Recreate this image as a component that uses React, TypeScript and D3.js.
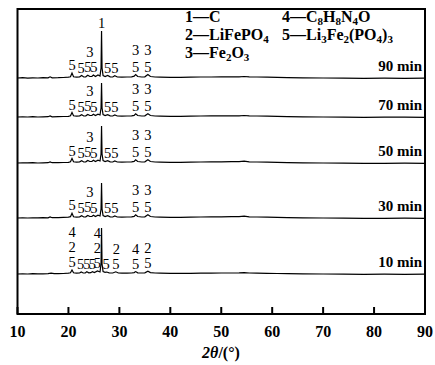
import React from 'react';
import * as d3 from 'd3';

const W = 435;
const H = 365;

const xTicks = [10, 20, 30, 40, 50, 60, 70, 80, 90];
const timeLabels = ['90 min', '70 min', '50 min', '30 min', '10 min'];
// vertical stacking of each pattern (a.u. above the x axis)
const stackOffsets = [236, 197, 151, 96, 40];

// [2θ, intensity]
const pattern90: [number, number][] = [
  [10, 0], [11, 0.3], [12, -0.2], [13, 0.2], [14, 0], [15, 0.3], [16, 0.2], [16.4, 1.2], [16.8, 0.2],
  [18, 0.3], [19, 0.5], [20, 0.8], [20.4, 1.2], [20.7, 5], [21, 1.2], [21.6, 0.8], [22.2, 1.2], [22.6, 2.5],
  [23, 1], [23.4, 1.2], [23.8, 2.8], [24.2, 1.5], [24.6, 1.5], [24.9, 3], [25.3, 1.5], [25.8, 3], [26.2, 2],
  [26.4, 10], [26.5, 47], [26.6, 10], [26.8, 2.5], [27.2, 1.5], [27.7, 2.5], [28.2, 1.2], [28.7, 1], [29.1, 2.2],
  [29.6, 1], [30.5, 0.8], [31.5, 1], [32.4, 1.2], [32.9, 1.8], [33.2, 3.5], [33.6, 1.5], [34.4, 1], [35, 1.2],
  [35.6, 3.5], [36.1, 1.5], [37, 1], [38, 0.8], [40, 0.6], [42, 0.6], [44, 0.8], [46, 1], [48, 1], [50, 1.1],
  [52, 1.1], [53.5, 1.2], [54.5, 1.5], [55.5, 1.1], [57, 1], [59, 0.9], [61, 0.6], [63, 0.4], [66, 0.2], [70, 0],
  [74, -0.2], [78, -0.3], [82, -0.2], [86, -0.3], [90, -0.2],
];
const pattern70: [number, number][] = [
  [10, 0], [11, 0.2], [12, 0], [13, 0.3], [14, 0], [15, 0.2], [16, 0.3], [16.4, 1], [16.8, 0.2],
  [18, 0.4], [19, 0.5], [20, 0.7], [20.4, 1.2], [20.7, 4.5], [21, 1.2], [21.6, 0.8], [22.2, 1.2], [22.6, 2.3],
  [23, 1], [23.4, 1.2], [23.8, 2.6], [24.2, 1.5], [24.6, 1.5], [24.9, 2.8], [25.3, 1.5], [25.8, 2.8], [26.2, 2],
  [26.4, 9], [26.5, 34], [26.6, 9], [26.8, 2.5], [27.2, 1.5], [27.7, 2.3], [28.2, 1.2], [28.7, 1], [29.1, 2],
  [29.6, 1], [30.5, 0.8], [31.5, 1], [32.4, 1.2], [32.9, 1.6], [33.2, 3.2], [33.6, 1.5], [34.4, 1], [35, 1.2],
  [35.6, 3.2], [36.1, 1.5], [37, 1], [38, 0.8], [40, 0.6], [42, 0.7], [44, 0.8], [46, 1], [48, 1.1], [50, 1.2],
  [52, 1.2], [53.5, 1.2], [54.5, 1.5], [55.5, 1.1], [57, 1], [59, 0.9], [61, 0.6], [63, 0.4], [66, 0.2], [70, 0],
  [74, -0.1], [78, -0.3], [82, -0.2], [86, -0.2], [90, -0.3],
];
const pattern50: [number, number][] = [
  [10, 0], [11, 0.2], [12, 0.1], [13, 0.3], [14, 0], [15, 0.2], [16, 0.3], [16.4, 1], [16.8, 0.3],
  [18, 0.4], [19, 0.5], [20, 0.7], [20.4, 1.2], [20.7, 4.5], [21, 1.2], [21.6, 0.8], [22.2, 1.2], [22.6, 2.3],
  [23, 1], [23.4, 1.2], [23.8, 2.6], [24.2, 1.5], [24.6, 1.5], [24.9, 2.8], [25.3, 1.5], [25.8, 2.8], [26.2, 2],
  [26.4, 9], [26.5, 37], [26.6, 9], [26.8, 2.5], [27.2, 1.5], [27.7, 2.3], [28.2, 1.2], [28.7, 1], [29.1, 2],
  [29.6, 1], [30.5, 0.8], [31.5, 1], [32.4, 1.2], [32.9, 1.6], [33.2, 3.2], [33.6, 1.5], [34.4, 1], [35, 1.2],
  [35.6, 3.2], [36.1, 1.5], [37, 1], [38, 0.8], [40, 0.6], [42, 0.7], [44, 0.8], [46, 1], [48, 1.1], [50, 1.2],
  [52, 1.3], [53.5, 1.4], [54.5, 1.8], [55.5, 1.2], [57, 1], [59, 0.9], [61, 0.6], [63, 0.4], [66, 0.2], [70, 0],
  [74, -0.2], [78, -0.3], [82, -0.3], [86, -0.2], [90, -0.3],
];
const pattern30: [number, number][] = [
  [10, 0], [11, 0.2], [12, 0], [13, 0.2], [14, 0.1], [15, 0.3], [16, 0.2], [16.4, 1], [16.8, 0.3],
  [18, 0.4], [19, 0.6], [20, 0.8], [20.4, 1.3], [20.7, 4.8], [21, 1.2], [21.6, 0.8], [22.2, 1.2], [22.6, 2.3],
  [23, 1], [23.4, 1.2], [23.8, 2.6], [24.2, 1.5], [24.6, 1.5], [24.9, 2.8], [25.3, 1.5], [25.8, 2.8], [26.2, 2],
  [26.4, 9], [26.5, 35], [26.6, 9], [26.8, 2.5], [27.2, 1.5], [27.7, 2.3], [28.2, 1.2], [28.7, 1], [29.1, 2],
  [29.6, 1], [30.5, 0.8], [31.5, 1], [32.4, 1.2], [32.9, 1.6], [33.2, 3.2], [33.6, 1.5], [34.4, 1], [35, 1.2],
  [35.6, 3.2], [36.1, 1.5], [37, 1], [38, 0.8], [40, 0.6], [42, 0.7], [44, 0.8], [46, 1], [48, 1.1], [50, 1.2],
  [52, 1.3], [53.5, 1.4], [54.5, 1.8], [55.5, 1.2], [57, 1], [59, 0.9], [61, 0.6], [63, 0.4], [66, 0.2], [70, 0],
  [74, -0.2], [78, -0.3], [82, -0.3], [86, -0.2], [90, -0.3],
];
const pattern10: [number, number][] = [
  [10, 0], [11, 0.2], [12, 0], [13, 0.3], [14, 0.1], [15, 0.2], [16, 0.4], [16.6, 0.8], [17.2, 0.3],
  [18, 0.4], [19, 0.5], [20, 0.8], [20.4, 1.2], [20.7, 4], [21, 1.2], [21.6, 0.8], [22.2, 1], [22.5, 2],
  [22.9, 1], [23.3, 1.1], [23.6, 2.2], [24, 1.2], [24.4, 1.3], [24.7, 2.4], [25.1, 1.4], [25.7, 3], [26.2, 2],
  [26.4, 10], [26.5, 46], [26.6, 10], [26.8, 2.4], [27.2, 1.6], [27.5, 2], [28, 1.2], [28.7, 1], [29.3, 2.2],
  [29.8, 1], [30.5, 0.8], [31.5, 0.9], [32.4, 1], [32.9, 1.4], [33.2, 2.4], [33.6, 1.2], [34.4, 1], [35, 1.2],
  [35.6, 2.8], [36.1, 1.4], [37, 1], [38, 0.8], [40, 0.6], [42, 0.6], [44, 0.7], [46, 0.8], [48, 0.9], [50, 1],
  [52, 1], [53.5, 1.1], [54.5, 1.3], [55.5, 1], [57, 0.8], [59, 0.7], [61, 0.5], [63, 0.3], [66, 0.1], [70, 0],
  [74, -0.2], [78, -0.3], [82, -0.2], [86, -0.3], [90, -0.2],
];
const patterns = [pattern90, pattern70, pattern50, pattern30, pattern10];

// [label, 2θ, level]
const commonLabels: [string, number, number][] = [
  ['5', 20.7, 0], ['5', 22.5, 0], ['5', 23.8, 0], ['5', 25.0, 0], ['3', 24.2, 1],
  ['5', 27.7, 0], ['5', 29.1, 0], ['5', 33.2, 0], ['5', 35.6, 0], ['3', 33.2, 1], ['3', 35.6, 1],
];
const labels90: [string, number, number][] = [...commonLabels, ['1', 26.5, 0]];
const labels10: [string, number, number][] = [
  ['5', 20.7, 0], ['2', 20.7, 1], ['4', 20.7, 2], ['5', 22.4, 0], ['5', 23.6, 0], ['5', 24.7, 0], ['5', 25.7, 0],
  ['2', 25.7, 1], ['4', 25.7, 2], ['5', 27.4, 0], ['5', 29.3, 0], ['2', 29.4, 1],
  ['5', 33.2, 0], ['4', 33.2, 1], ['5', 35.6, 0], ['2', 35.6, 1],
];
const peakLabels = [labels90, commonLabels, commonLabels, commonLabels, labels10];

const legendCol1 = ['1—C', '2—LiFePO_4', '3—Fe_2O_3'];
const legendCol2 = ['4—C_8H_8N_4O', '5—Li_3Fe_2(PO_4)_3'];

const serif = '"Liberation Serif", "Times New Roman", serif';

const x = d3.scaleLinear().domain([10, 90]).range([17.5, 425]);
const y = d3.scaleLinear().domain([0, 305]).range([314, 9]);

const heightAt = (p: [number, number][], t: number) => {
  const i = d3.bisector((d: [number, number]) => d[0]).left(p, t);
  if (i <= 0) return p[0][1];
  if (i >= p.length) return p[p.length - 1][1];
  const [x0, y0] = p[i - 1];
  const [x1, y1] = p[i];
  return y0 + ((t - x0) / (x1 - x0)) * (y1 - y0);
};

// bold formula text, "_d" marks a subscript digit
const Chem: React.FC<{ text: string; x: number; y: number }> = ({ text, x: tx, y: ty }) => {
  const parts = text.split(/(_\d)/).filter(s => s.length);
  let sub = false;
  return (
    <text x={tx} y={ty} fontFamily={serif} fontWeight="bold" fontSize={16}>
      {parts.map((p, i) => {
        if (p.startsWith('_')) {
          const el = <tspan key={i} fontSize={11} dy={sub ? 0 : 3}>{p.slice(1)}</tspan>;
          sub = true;
          return el;
        }
        const el = <tspan key={i} dy={sub ? -3 : 0}>{p}</tspan>;
        sub = false;
        return el;
      })}
    </text>
  );
};

export default function App() {
  return (
    <svg width={W} height={H} style={{ position: 'absolute', left: 0, top: 0, background: '#fff' }}>
      {patterns.map((p, i) => {
        const off = stackOffsets[i];
        const d = d3.line<[number, number]>()
          .x(v => x(v[0]))
          .y(v => y(off + v[1]))(p);
        const step = i === 4 ? 15 : 17;
        return (
          <g key={i}>
            <path d={d ?? ''} fill="none" stroke="#000" strokeWidth={1.2} />
            {peakLabels[i].map(([s, t, lv], j) => (
              <text key={j} x={x(t)} y={y(off + heightAt(p, t)) - 3 - lv * step}
                textAnchor="middle" fontFamily={serif} fontSize={14.5}>{s}</text>
            ))}
            <text x={422} y={y(off) - 7} textAnchor="end" fontFamily={serif}
              fontWeight="bold" fontSize={15}>{timeLabels[i]}</text>
          </g>
        );
      })}
      {legendCol1.map((s, i) => <Chem key={s} text={s} x={185} y={22 + i * 18} />)}
      {legendCol2.map((s, i) => <Chem key={s} text={s} x={282} y={22 + i * 18} />)}
      <rect x={x(10)} y={y(305)} width={x(90) - x(10)} height={y(0) - y(305)}
        fill="none" stroke="#000" strokeWidth={2} />
      {xTicks.map(t => (
        <g key={t}>
          <line x1={x(t)} x2={x(t)} y1={y(0)} y2={y(0) - 7} stroke="#000" strokeWidth={2} />
          <text x={x(t)} y={337} textAnchor="middle" fontFamily={serif} fontWeight="bold" fontSize={16}>{t}</text>
        </g>
      ))}
      <text x={221} y={358} textAnchor="middle" fontFamily={serif} fontWeight="bold" fontSize={16}>
        <tspan fontStyle="italic">2θ</tspan>/(°)
      </text>
    </svg>
  );
}
